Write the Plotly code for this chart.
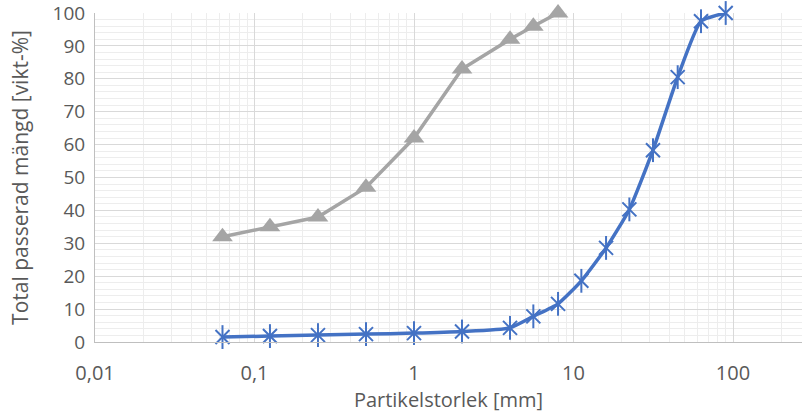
import plotly.graph_objects as go

# Sieve sizes [mm] and cumulative passing [wt-%]
size_fine = [0.063, 0.125, 0.25, 0.5, 1, 2, 4, 5.6, 8]
pass_fine = [32, 35, 38, 47, 62, 83, 92, 96, 100]

size_coarse = [0.063, 0.125, 0.25, 0.5, 1, 2, 4, 5.6, 8, 11.2, 16, 22.4, 31.5, 45, 63, 90]
pass_coarse = [1.5, 1.8, 2.1, 2.4, 2.7, 3.2, 4.3, 7.8, 11.6, 18.6, 28.6, 40.3, 58.3, 80.5, 97.5, 100]

x_tick_vals = [0.01, 0.1, 1, 10, 100, 1000]
x_tick_text = ["0,01", "0,1", "1", "10", "100", "1000"]

GRAY = "#A5A5A5"
BLUE = "#4472C4"
TEXT = "#595959"
FONT = "Open Sans"

minor_x = [m * 10.0 ** e for e in range(-2, 3) for m in range(2, 10)]

fig = go.Figure()

fig.add_trace(go.Scatter(
    x=size_fine, y=pass_fine, mode="lines+markers",
    line=dict(color=GRAY, width=3.5),
    marker=dict(symbol="triangle-up", size=18, color=GRAY),
    showlegend=False, cliponaxis=False,
))

fig.add_trace(go.Scatter(
    x=size_coarse, y=pass_coarse, mode="lines+markers",
    line=dict(color=BLUE, width=3.5, shape="spline", smoothing=0.5),
    marker=dict(symbol="x-thin-open", size=14, color=BLUE, line=dict(color=BLUE, width=2)),
    showlegend=False, cliponaxis=False,
))
# vertical stroke of the star marker
fig.add_trace(go.Scatter(
    x=size_coarse, y=pass_coarse, mode="markers",
    marker=dict(symbol="line-ns-open", size=17, color=BLUE, line=dict(color=BLUE, width=2)),
    showlegend=False, cliponaxis=False, hoverinfo="skip",
))

W, H = 802, 416
left, right, top, bottom = 95, 0, 13, 74
px_per_decade = 159.5
x_hi = -2 + (W - left - right) / px_per_decade

fig.update_layout(
    width=W, height=H,
    margin=dict(l=left, r=right, t=top, b=bottom, autoexpand=False),
    paper_bgcolor="white", plot_bgcolor="white",
    font=dict(family=FONT, color=TEXT, size=20),
)

fig.update_xaxes(
    type="log", range=[-2, x_hi],
    tickvals=x_tick_vals, ticktext=x_tick_text,
    tickfont=dict(size=20, color=TEXT),
    showgrid=True, gridcolor="#D9D9D9", gridwidth=1,
    minor=dict(tickvals=minor_x, showgrid=True, gridcolor="#EDEDED", gridwidth=1, ticks=""),
    showline=True, linecolor="#BFBFBF", linewidth=1,
    ticks="", ticklabelstandoff=13, ticklabeloverflow="allow",
    title=dict(text="Partikelstorlek [mm]", font=dict(size=20, color=TEXT), standoff=4),
    zeroline=False, automargin=False,
)

fig.update_yaxes(
    range=[0, 100], dtick=10, tick0=0,
    tickfont=dict(size=19, color=TEXT),
    showgrid=True, gridcolor="#D9D9D9", gridwidth=1,
    minor=dict(dtick=2, showgrid=True, gridcolor="#EDEDED", gridwidth=1, ticks=""),
    showline=True, linecolor="#BFBFBF", linewidth=1,
    ticks="", ticklabelstandoff=5, ticklabeloverflow="allow",
    title=dict(text="Total passerad mängd [vikt-%]", font=dict(size=21, color=TEXT), standoff=18),
    zeroline=False, automargin=False,
)

fig.write_html("out.html")
